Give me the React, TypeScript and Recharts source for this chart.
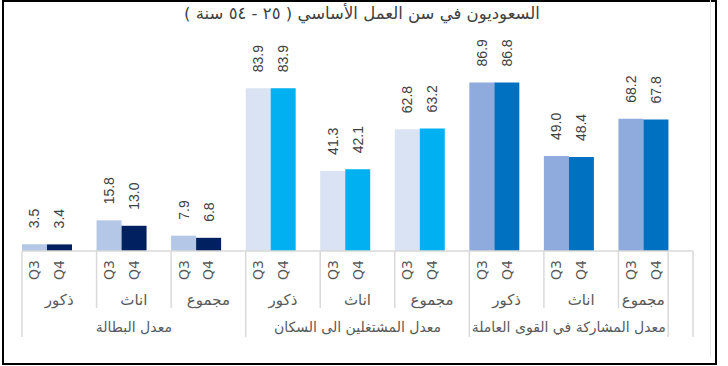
import { BarChart, Bar, XAxis, YAxis, Cell, LabelList } from 'recharts';

const subGroups = ['ذكور', 'اناث', 'مجموع', 'ذكور', 'اناث', 'مجموع', 'ذكور', 'اناث', 'مجموع'];
const mainGroups = ['معدل البطالة', 'معدل المشتغلين الى السكان', 'معدل المشاركة في القوى العاملة'];
const quarterLabels = ['Q3', 'Q4'];
const q3Values = [3.5, 15.8, 7.9, 83.9, 41.3, 62.8, 86.9, 49.0, 68.2];
const q4Values = [3.4, 13.0, 6.8, 83.9, 42.1, 63.2, 86.8, 48.4, 67.8];
const q3Colors = ['#B4C7E7', '#DAE3F3', '#8FAADC'];
const q4Colors = ['#002060', '#00B0F0', '#0070C0'];

const title = 'السعوديون في سن العمل الأساسي ( ٢٥ - ٥٤ سنة )';

const W = 728;
const H = 366;
const PLOT_LEFT = 22;
const PLOT_RIGHT = 693;
const AXIS_Y = 251;
const BAND = (PLOT_RIGHT - PLOT_LEFT) / subGroups.length;
const SLOT = BAND / 3;
const GRID = '#D9D9D9';
const TEXT = '#595959';
const FONT = '"DejaVu Sans", sans-serif';

const data = subGroups.map((name, i) => ({
  name,
  q3: q3Values[i],
  q4: q4Values[i],
  pad: 0,
}));

function ValueLabel(props: any) {
  const { x, y, width, value } = props;
  if (value == null) return null;
  const cx = x + width / 2;
  const ty = y - 16;
  return (
    <text
      x={cx}
      y={ty}
      transform={`rotate(-90 ${cx} ${ty})`}
      textAnchor="start"
      dominantBaseline="central"
      fontSize={14}
      fontFamily='"Liberation Sans", Arial, sans-serif'
      fill="#404040"
    >
      {Number(value).toFixed(1)}
    </text>
  );
}

function CategoryTick(props: any) {
  const { x, payload } = props;
  const i = props.index ?? payload.index;
  const left = x - BAND / 2;
  const last = i === subGroups.length - 1;
  const subCenter = last ? left + SLOT : x;
  const groupCenter = i === 7 ? x - SLOT / 2 : x;

  return (
    <g>
      <line x1={left} x2={left} y1={AXIS_Y} y2={i % 3 === 0 ? 337 : 308} stroke={GRID} strokeWidth={1.5} />
      {last && (
        <>
          <line x1={left + 2 * SLOT} x2={left + 2 * SLOT} y1={AXIS_Y} y2={337} stroke={GRID} strokeWidth={1.5} />
          <line x1={left + 3 * SLOT} x2={left + 3 * SLOT} y1={AXIS_Y} y2={337} stroke={GRID} strokeWidth={1.5} />
        </>
      )}
      {quarterLabels.map((q, k) => {
        const qx = left + SLOT * (k + 0.5);
        return (
          <text
            key={q}
            x={qx}
            y={270}
            transform={`rotate(-90 ${qx} 270)`}
            textAnchor="middle"
            dominantBaseline="central"
            fontSize={14}
            fontFamily={FONT}
            fill={TEXT}
          >
            {q}
          </text>
        );
      })}
      <text x={subCenter} y={300} textAnchor="middle" dominantBaseline="central" fontSize={15} fontFamily={FONT} fill={TEXT} direction="rtl">
        {subGroups[i]}
      </text>
      {i % 3 === 1 && (
        <text x={groupCenter} y={327} textAnchor="middle" dominantBaseline="central" fontSize={14} fontFamily={FONT} fill={TEXT} direction="rtl">
          {mainGroups[Math.floor(i / 3)]}
        </text>
      )}
    </g>
  );
}

export default function App() {
  return (
    <div style={{ position: 'absolute', left: 0, top: 0, width: W, height: H, background: '#fff' }}>
      <div
        style={{
          position: 'absolute',
          left: 2,
          top: 0,
          width: 715,
          height: 365,
          border: '2px solid #000',
          boxSizing: 'border-box',
        }}
      />
      <div style={{ position: 'absolute', left: 710, top: 0, width: 1, height: 357, background: '#E6E6E6' }} />
      <div
        style={{
          position: 'absolute',
          left: 0,
          top: 4,
          width: 724,
          textAlign: 'center',
          direction: 'rtl',
          fontFamily: FONT,
          fontSize: 16.5,
          lineHeight: '20px',
          color: '#404040',
        }}
      >
        {title}
      </div>
      <div style={{ position: 'absolute', left: 0, top: 0 }}>
        <BarChart
          width={W}
          height={H}
          data={data}
          margin={{ top: 57, right: W - PLOT_RIGHT, left: PLOT_LEFT, bottom: 0 }}
          barCategoryGap={0}
          barGap={0}
        >
          <XAxis
            dataKey="name"
            height={H - AXIS_Y}
            interval={0}
            tickLine={false}
            axisLine={{ stroke: GRID, strokeWidth: 1.5 }}
            tick={<CategoryTick />}
          />
          <YAxis hide domain={[0, 100]} />
          <Bar dataKey="q3" isAnimationActive={false}>
            {data.map((_, i) => (
              <Cell key={i} fill={q3Colors[Math.floor(i / 3)]} />
            ))}
            <LabelList dataKey="q3" content={<ValueLabel />} />
          </Bar>
          <Bar dataKey="q4" isAnimationActive={false}>
            {data.map((_, i) => (
              <Cell key={i} fill={q4Colors[Math.floor(i / 3)]} />
            ))}
            <LabelList dataKey="q4" content={<ValueLabel />} />
          </Bar>
          <Bar dataKey="pad" fill="none" isAnimationActive={false} />
        </BarChart>
      </div>
    </div>
  );
}
